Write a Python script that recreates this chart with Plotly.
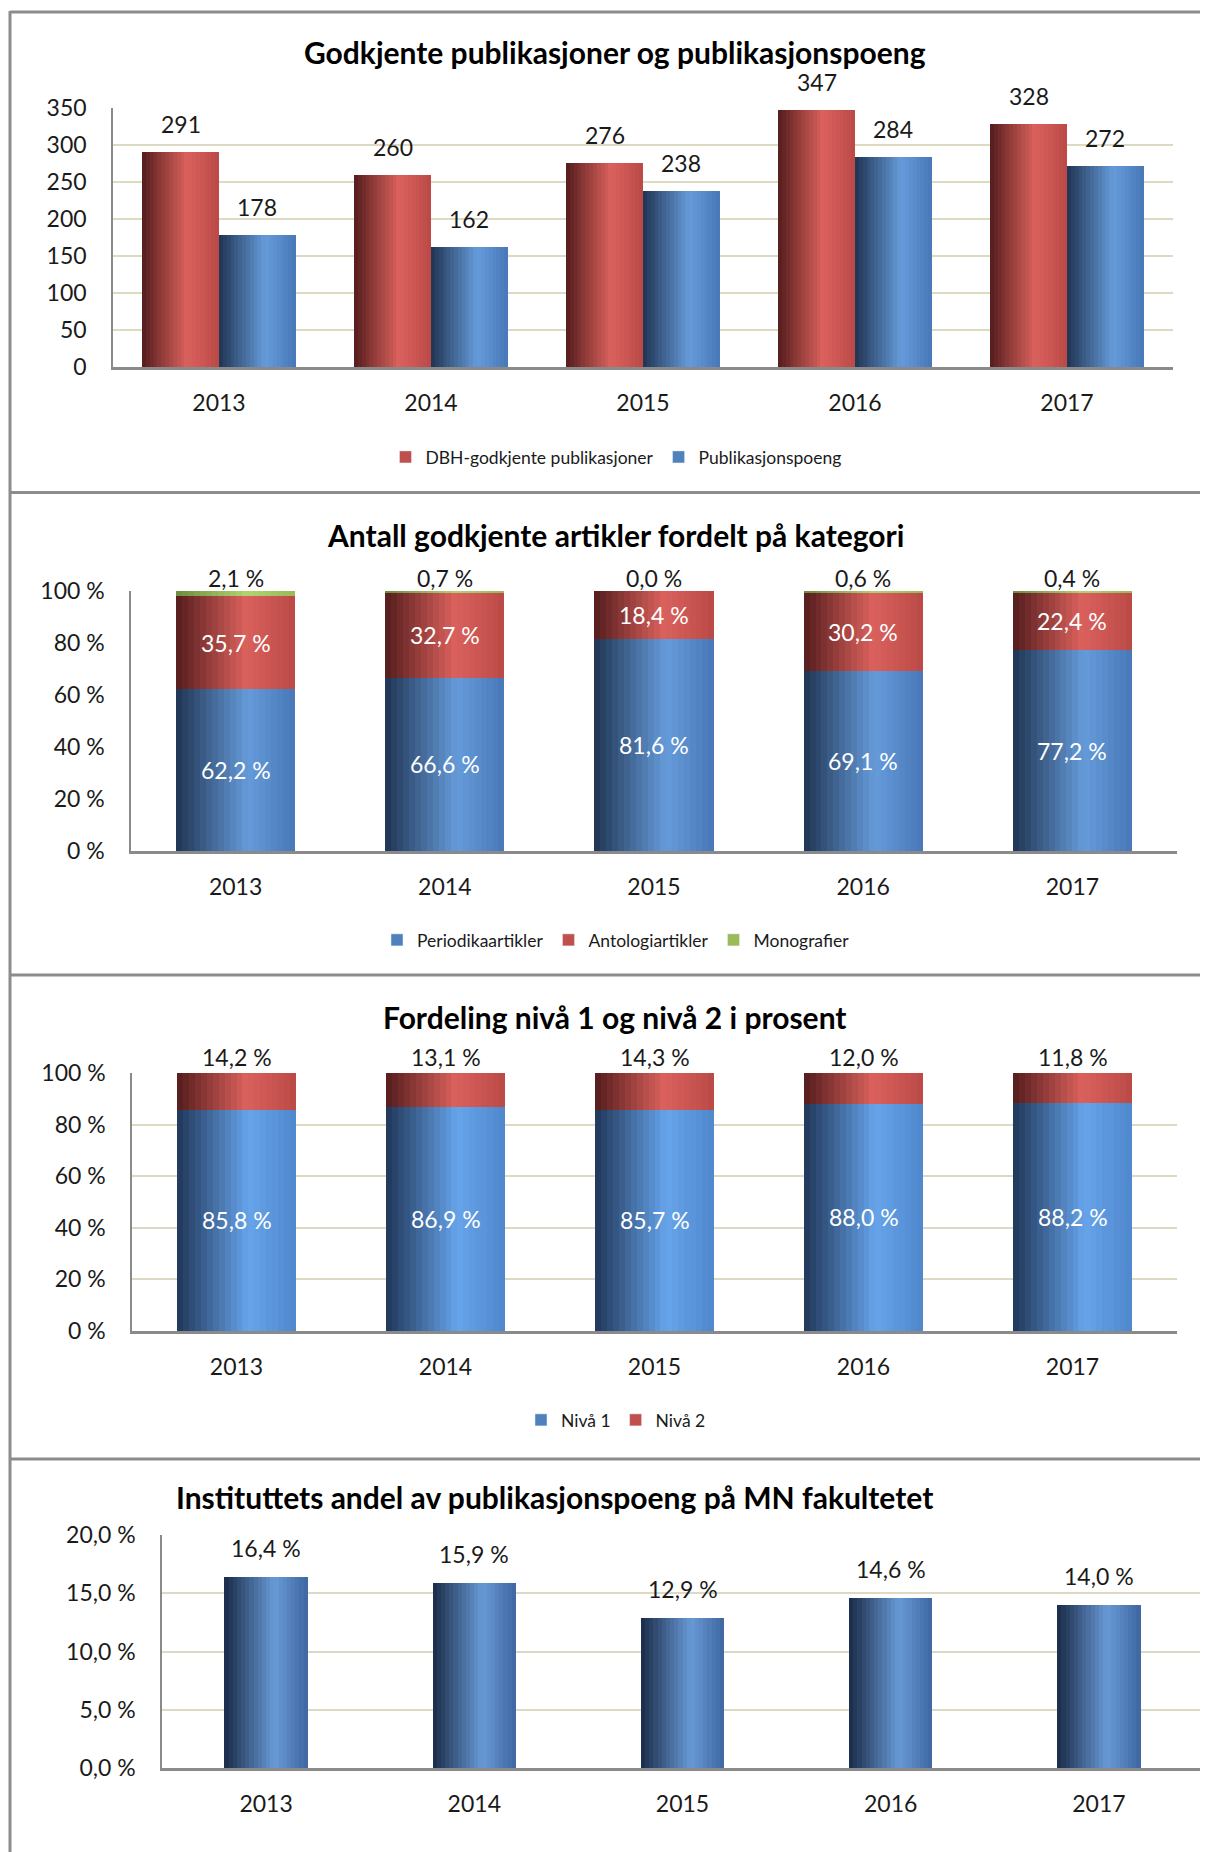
import plotly.graph_objects as go

# ---------------- data ----------------
years = ["2013", "2014", "2015", "2016", "2017"]

# Panel 1
dbh_godkjente = [291, 260, 276, 347, 328]
publikasjonspoeng = [178, 162, 238, 284, 272]
p1_tickvals = [0, 50, 100, 150, 200, 250, 300, 350]
p1_ticktext = ["0", "50", "100", "150", "200", "250", "300", "350"]

# Panel 2
periodikaartikler = [62.2, 66.6, 81.6, 69.1, 77.2]
antologiartikler = [35.7, 32.7, 18.4, 30.2, 22.4]
monografier = [2.1, 0.7, 0.0, 0.6, 0.4]

# Panel 3
niva1 = [85.8, 86.9, 85.7, 88.0, 88.2]
niva2 = [14.2, 13.1, 14.3, 12.0, 11.8]
pct_tickvals = [0, 20, 40, 60, 80, 100]
pct_ticktext = ["0 %", "20 %", "40 %", "60 %", "80 %", "100 %"]

# Panel 4
andel = [16.4, 15.9, 12.9, 14.6, 14.0]
p4_tickvals = [0, 5, 10, 15, 20]
p4_ticktext = ["0,0 %", "5,0 %", "10,0 %", "15,0 %", "20,0 %"]

# ---------------- helpers ----------------
W, H = 1200, 1844          # figure size (page body has an 8px margin)
OFF = 8
FONT = "Lato, 'Open Sans', sans-serif"
TXT = "#1a1a1a"
GRID = "rgb(221,217,195)"
AXIS = "#8a8a8a"


def px(x):
    return (x - OFF) / W


def py(y):
    return 1 - (y - OFF) / H


def pct(v):
    return f"{v:.1f}".replace(".", ",") + " %"


def interp(stops, t):
    for (t0, c0), (t1, c1) in zip(stops[:-1], stops[1:]):
        if t0 <= t <= t1:
            f = (t - t0) / (t1 - t0) if t1 > t0 else 0
            c = [round(a + (b - a) * f) for a, b in zip(c0, c1)]
            return f"rgb({c[0]},{c[1]},{c[2]})"
    c = stops[-1][1]
    return f"rgb({c[0]},{c[1]},{c[2]})"


RED = [(0, (84, 28, 28)), (0.58, (219, 97, 93)), (1, (186, 74, 71))]
BLUE = [(0, (32, 52, 82)), (0.6, (101, 155, 218)), (1, (72, 120, 184))]
BLUE3 = [(0, (32, 54, 88)), (0.6, (102, 164, 234)), (1, (80, 135, 205))]
BLUE4 = [(0, (26, 42, 72)), (0.6, (104, 154, 214)), (1, (62, 102, 160))]
GREEN = [(0, (110, 140, 60)), (0.6, (178, 212, 112)), (1, (150, 186, 86))]

fig = go.Figure()
idx = list(range(len(years)))


def grad_bars(ys, bases, stops, center_off, total_w, xa, ya, n=20):
    left = center_off - total_w / 2
    right = center_off + total_w / 2
    sw = total_w / n
    for i in range(n):
        t = (i + 0.5) / n
        off = left + i * sw
        w = min(sw * 1.4, right - off)
        fig.add_trace(go.Bar(
            x=idx, y=ys, base=bases, offset=off, width=w,
            marker=dict(color=interp(stops, t), line=dict(width=0)),
            xaxis=xa, yaxis=ya, showlegend=False, hoverinfo="skip"))


def legend_entry(name, color, legend):
    fig.add_trace(go.Bar(x=[None], y=[None], name=name, marker_color=color,
                         legend=legend, showlegend=True, xaxis="x", yaxis="y"))


annotations = []
LBL = 23


def label(x, y, text, xref, yref, yshift, color=TXT):
    annotations.append(dict(x=x, y=y, xref=xref, yref=yref, text=text, showarrow=False,
                            yanchor="middle", yshift=yshift,
                            font=dict(family=FONT, size=LBL, color=color)))


# ---------------- Panel 1 ----------------
gw = 0.363
grad_bars(dbh_godkjente, [0] * 5, RED, -gw / 2, gw, "x", "y")
grad_bars(publikasjonspoeng, [0] * 5, BLUE, gw / 2, gw, "x", "y")
for i in idx:
    label(i - gw / 2, dbh_godkjente[i], str(dbh_godkjente[i]), "x", "y", 28)
    label(i + gw / 2, publikasjonspoeng[i], str(publikasjonspoeng[i]), "x", "y", 28)
legend_entry("DBH-godkjente publikasjoner", "#c0504d", "legend")
legend_entry("Publikasjonspoeng", "#4f81bd", "legend")

# ---------------- Panel 2 ----------------
bw = 0.57
base_red = periodikaartikler
base_green = [a + b for a, b in zip(periodikaartikler, antologiartikler)]
grad_bars(periodikaartikler, [0] * 5, BLUE, 0, bw, "x2", "y2")
grad_bars(antologiartikler, base_red, RED, 0, bw, "x2", "y2")
grad_bars(monografier, base_green, GREEN, 0, bw, "x2", "y2")
for i in idx:
    label(i, periodikaartikler[i] / 2, pct(periodikaartikler[i]), "x2", "y2", 0, "white")
    label(i, base_red[i] + antologiartikler[i] / 2, pct(antologiartikler[i]), "x2", "y2", 0, "white")
    label(i, base_green[i] + monografier[i], pct(monografier[i]), "x2", "y2", 13)
legend_entry("Periodikaartikler", "#4f81bd", "legend2")
legend_entry("Antologiartikler", "#c0504d", "legend2")
legend_entry("Monografier", "#9bbb59", "legend2")

# ---------------- Panel 3 ----------------
grad_bars(niva1, [0] * 5, BLUE3, 0, bw, "x3", "y3")
grad_bars(niva2, niva1, RED, 0, bw, "x3", "y3")
for i in idx:
    label(i, niva1[i] / 2, pct(niva1[i]), "x3", "y3", 0, "white")
    label(i, niva1[i] + niva2[i], pct(niva2[i]), "x3", "y3", 16)
legend_entry("Nivå 1", "#4f81bd", "legend3")
legend_entry("Nivå 2", "#c0504d", "legend3")

# ---------------- Panel 4 ----------------
grad_bars(andel, [0] * 5, BLUE4, 0, 0.4, "x4", "y4")
for i in idx:
    label(i, andel[i], pct(andel[i]), "x4", "y4", 29)

# ---------------- titles ----------------
titles = [
    ("Godkjente publikasjoner og publikasjonspoeng", 615, 52),
    ("Antall godkjente artikler fordelt på kategori", 615, 535),
    ("Fordeling nivå 1 og nivå 2 i prosent", 615, 1017),
    ("Instituttets andel av publikasjonspoeng på MN fakultetet", 554, 1497),
]
for t, x, y in titles:
    annotations.append(dict(x=px(x), y=py(y), xref="paper", yref="paper", text=f"<b>{t}</b>",
                            showarrow=False, xanchor="center", yanchor="middle",
                            font=dict(family=FONT, size=30, color="#000")))

# ---------------- axes ----------------
tickfont = dict(family=FONT, size=23, color=TXT)


def xaxis(dom, anchor):
    return dict(domain=[px(dom[0]), px(dom[1])], range=[-0.5, 4.5], tickvals=idx, ticktext=years,
                showgrid=False, zeroline=False, showline=True, linecolor=AXIS, linewidth=2.5,
                ticks="outside", ticklen=14, tickcolor="rgba(0,0,0,0)", tickfont=tickfont,
                anchor=anchor, fixedrange=True)


def yaxis(dom, rng, tv, tt, grid, anchor):
    return dict(domain=[py(dom[1]), py(dom[0])], range=rng, tickvals=tv, ticktext=tt,
                showgrid=grid, gridcolor=GRID, gridwidth=2, zeroline=False,
                showline=True, linecolor=AXIS, linewidth=1.5,
                ticks="outside", ticklen=20, tickcolor="rgba(0,0,0,0)", tickfont=tickfont,
                anchor=anchor, fixedrange=True)


legfont = dict(family=FONT, size=17.5, color=TXT)


def legend(y):
    return dict(orientation="h", x=px(616), y=py(y), xanchor="center", yanchor="middle",
                font=legfont, itemwidth=30, bgcolor="rgba(0,0,0,0)", traceorder="normal")


# frame shapes
shapes = []
line = dict(color="#8c8c8c", width=3)
shapes.append(dict(type="line", xref="paper", yref="paper", x0=px(10), x1=px(10),
                   y0=py(11), y1=0, line=line))
for yy in [12, 492.5, 975, 1459]:
    shapes.append(dict(type="line", xref="paper", yref="paper", x0=px(10), x1=1,
                       y0=py(yy), y1=py(yy), line=line))

fig.update_layout(
    width=W, height=H, margin=dict(l=0, r=0, t=0, b=0, pad=0, autoexpand=False),
    paper_bgcolor="white", plot_bgcolor="rgba(0,0,0,0)",
    barmode="overlay", bargap=0,
    font=dict(family=FONT, color=TXT),
    xaxis=xaxis((113, 1173), "y"),
    yaxis=yaxis((108, 367), [0, 350], p1_tickvals, p1_ticktext, True, "x"),
    xaxis2=xaxis((131, 1177), "y2"),
    yaxis2=yaxis((591, 851), [0, 100], pct_tickvals, pct_ticktext, False, "x2"),
    xaxis3=xaxis((132, 1177), "y3"),
    yaxis3=yaxis((1073, 1331), [0, 100], pct_tickvals, pct_ticktext, True, "x3"),
    xaxis4=xaxis((162, 1203), "y4"),
    yaxis4=yaxis((1535, 1768), [0, 20], p4_tickvals, p4_ticktext, True, "x4"),
    legend=legend(457),
    legend2=legend(940),
    legend3=legend(1420),
    annotations=annotations,
    shapes=shapes,
    showlegend=True,
)

fig.write_html("out.html")
